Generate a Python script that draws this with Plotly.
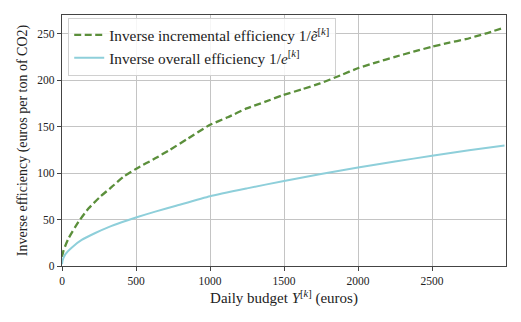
import plotly.graph_objects as go

budget_inc = [0, 11, 45, 112, 180, 258, 336, 415, 505, 630, 729, 850, 997, 1120, 1248, 1370,
              1495, 1620, 1744, 1880, 2003, 2125, 2250, 2375, 2498, 2610, 2728, 2860, 2990]
inv_inc = [10, 17, 30, 47.6, 62, 74.5, 85, 96, 105, 115.8, 125, 137, 151.6, 160, 169.5, 176.5,
           183.9, 190, 196.4, 205, 213, 219, 225, 230.5, 235.8, 240, 244, 250, 256.5]

budget_all = [0, 4, 22, 67, 133, 225, 315, 403, 505, 630, 765, 1000, 1250, 1500, 1750,
              2000, 2250, 2500, 2750, 2990]
inv_all = [2, 6, 12.5, 20, 28, 35.5, 41.8, 47, 52.5, 58.5, 64.5, 75, 83.5, 91.5, 99,
           106, 112.5, 118.5, 124.5, 129.5]

x_ticks = [0, 500, 1000, 1500, 2000, 2500]
y_ticks = [0, 50, 100, 150, 200, 250]

FONT = "Liberation Serif"
TXT = "#222222"

fig = go.Figure()
fig.add_trace(go.Scatter(
    x=budget_inc, y=inv_inc, mode="lines",
    name="Inverse incremental efficiency 1/<i>ẽ</i><sup>[<i>k</i>]</sup>",
    line=dict(color="#5b8f3b", width=2.3, dash="7px,3.5px", shape="spline", smoothing=0.5),
))
fig.add_trace(go.Scatter(
    x=budget_all, y=inv_all, mode="lines",
    name="Inverse overall efficiency 1/<i>e</i><sup>[<i>k</i>]</sup>",
    line=dict(color="#8ecfda", width=2, shape="spline", smoothing=0.5),
))

axis_common = dict(
    showgrid=True, gridcolor="#c4c4c4", gridwidth=1.3,
    showline=True, linecolor="#444444", linewidth=1.3, mirror=True,
    ticks="outside", ticklen=4, tickcolor="#444444", tickwidth=1,
    zeroline=False,
    tickfont=dict(family=FONT, size=11.5, color=TXT),
)

fig.update_xaxes(
    range=[0, 3000], tickvals=x_ticks, ticktext=[str(v) for v in x_ticks],
    title=dict(text="Daily budget <i>Y</i><sup>[<i>k</i>]</sup> (euros)",
               font=dict(family=FONT, size=15, color=TXT), standoff=6),
    **axis_common,
)
fig.update_yaxes(
    range=[0, 270], tickvals=y_ticks, ticktext=[str(v) for v in y_ticks],
    title=dict(text="Inverse efficiency (euros per ton of CO2)",
               font=dict(family=FONT, size=14, color=TXT), standoff=6),
    **axis_common,
)

# page body has an 8px default margin; offset the figure to compensate
fig.update_layout(
    width=505, height=306,
    margin=dict(l=54, r=7, t=7, b=48, autoexpand=False),
    paper_bgcolor="white", plot_bgcolor="white",
    font=dict(family=FONT, size=14, color=TXT),
    showlegend=True,
    legend=dict(
        x=0.014, y=0.99, xanchor="left", yanchor="top",
        bgcolor="rgba(255,255,255,0.85)", bordercolor="#d0d0d0", borderwidth=1,
        font=dict(family=FONT, size=15.3, color=TXT),
        itemwidth=30,
    ),
)

fig.write_html("out.html")
